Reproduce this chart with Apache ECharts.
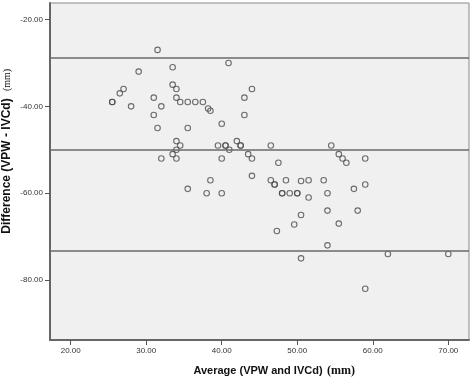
<!DOCTYPE html>
<html>
<head>
<meta charset="utf-8">
<script src="https://cdn.jsdelivr.net/npm/echarts@6/dist/echarts.min.js"></script>
<style>
  html, body { margin: 0; padding: 0; background: #fff; }
  #main { width: 472px; height: 378px; }
</style>
</head>
<body>
<div id="main"></div>
<script>
// averages (x) and differences (y)
const avgVals = [25.5, 25.5, 26.5, 27.0, 28.0, 29.0, 31.5, 31.0, 31.0, 31.5,
  32.0, 32.0, 33.5, 33.5, 33.5, 34.0, 34.0, 34.0, 34.0, 34.0,
  34.5, 34.5, 35.5, 35.5, 35.5, 36.5, 37.5, 38.0, 38.2, 38.5,
  38.5, 39.5, 40.0, 40.0, 40.0, 40.5, 40.5, 41.0, 40.9, 42.0,
  42.5, 42.5, 43.0, 43.0, 43.5, 44.0, 44.0, 44.0, 46.5, 46.5,
  47.0, 47.0, 47.3, 47.5, 48.0, 48.0, 48.5, 49.0, 49.6, 50.0,
  50.0, 50.5, 50.5, 50.5, 51.5, 51.5, 53.5, 54.0, 54.0, 54.0,
  54.5, 55.5, 56.0, 55.5, 56.5, 57.5, 58.0, 59.0, 59.0, 59.0,
  62.0, 70.0];
const diffVals = [-39, -39, -37, -36, -40, -32, -27, -38, -42, -45,
  -40, -52, -31, -35, -51, -36, -38, -48, -50, -52,
  -39, -49, -39, -45, -59, -39, -39, -60, -40.5, -41,
  -57, -49, -44, -52, -60, -49, -49, -50, -30, -48,
  -49, -49, -38, -42, -51, -36, -52, -56, -49, -57,
  -58, -58, -68.7, -53, -60, -60, -57, -60, -67.2, -60,
  -60, -57.2, -65, -75, -57, -61, -57, -60, -64, -72,
  -49, -51, -52, -67, -53, -59, -64, -52, -58, -82,
  -74, -74];

// upper limit, mean difference, lower limit
const refLines = [-28.7, -50.1, -73.3];

const xTicks = [20, 30, 40, 50, 60, 70];
const yTicks = [-20, -40, -60, -80];

const myChart = echarts.init(document.getElementById('main'));

const points = avgVals.map((x, i) => [x, diffVals[i]]);

const option = {
  backgroundColor: '#fff',
  animation: false,
  grid: {
    left: 50,
    right: 3,
    top: 3,
    bottom: 38,
    show: true,
    backgroundColor: '#f0f0f0',
    borderColor: '#8a8a8a',
    borderWidth: 1
  },
  xAxis: {
    type: 'value',
    min: 17.26,
    max: 72.74,
    splitLine: { show: false },
    axisLine: { show: true, lineStyle: { color: '#666', width: 2 } },
    axisTick: { show: true, length: 5, customValues: xTicks, lineStyle: { color: '#555' } },
    axisLabel: {
      customValues: xTicks,
      margin: 7,
      fontFamily: 'Liberation Sans',
      fontSize: 8,
      color: '#333',
      formatter: v => v.toFixed(2)
    }
  },
  yAxis: {
    type: 'value',
    min: -93.8,
    max: -16.2,
    splitLine: { show: false },
    axisLine: { show: true, onZero: false, lineStyle: { color: '#666', width: 2 } },
    axisTick: { show: true, length: 5, customValues: yTicks, lineStyle: { color: '#555' } },
    axisLabel: {
      customValues: yTicks,
      margin: 7,
      fontFamily: 'Liberation Sans',
      fontSize: 8,
      color: '#333',
      formatter: v => v.toFixed(2)
    }
  },
  graphic: [
    {
      type: 'text', x: 258, y: 371,
      style: { text: 'Average (VPW and IVCd)', font: 'bold 11px "Liberation Sans"', fill: '#111', textAlign: 'center', textVerticalAlign: 'middle' }
    },
    {
      type: 'text', x: 341, y: 371,
      style: { text: '(mm)', font: 'bold 12px "Liberation Serif"', fill: '#111', textAlign: 'center', textVerticalAlign: 'middle' }
    },
    {
      type: 'text', x: 7, y: 166, rotation: Math.PI / 2,
      style: { text: 'Difference (VPW - IVCd)', font: 'bold 12px "Liberation Sans"', fill: '#111', textAlign: 'center', textVerticalAlign: 'middle' }
    },
    {
      type: 'text', x: 7, y: 80, rotation: Math.PI / 2,
      style: { text: '(mm)', font: '10px "Liberation Serif"', fill: '#111', textAlign: 'center', textVerticalAlign: 'middle' }
    }
  ],
  series: [
    {
      type: 'scatter',
      data: points,
      symbol: 'circle',
      symbolSize: 5.5,
      itemStyle: { color: 'rgba(0,0,0,0)', borderColor: '#4a4a4a', borderWidth: 1.1 },
      emphasis: { disabled: true },
      markLine: {
        silent: true,
        symbol: 'none',
        label: { show: false },
        lineStyle: { color: '#6a6a6a', width: 1.5, type: 'solid' },
        data: refLines.map(v => ({ yAxis: v }))
      }
    }
  ]
};

myChart.setOption(option);
</script>
</body>
</html>
